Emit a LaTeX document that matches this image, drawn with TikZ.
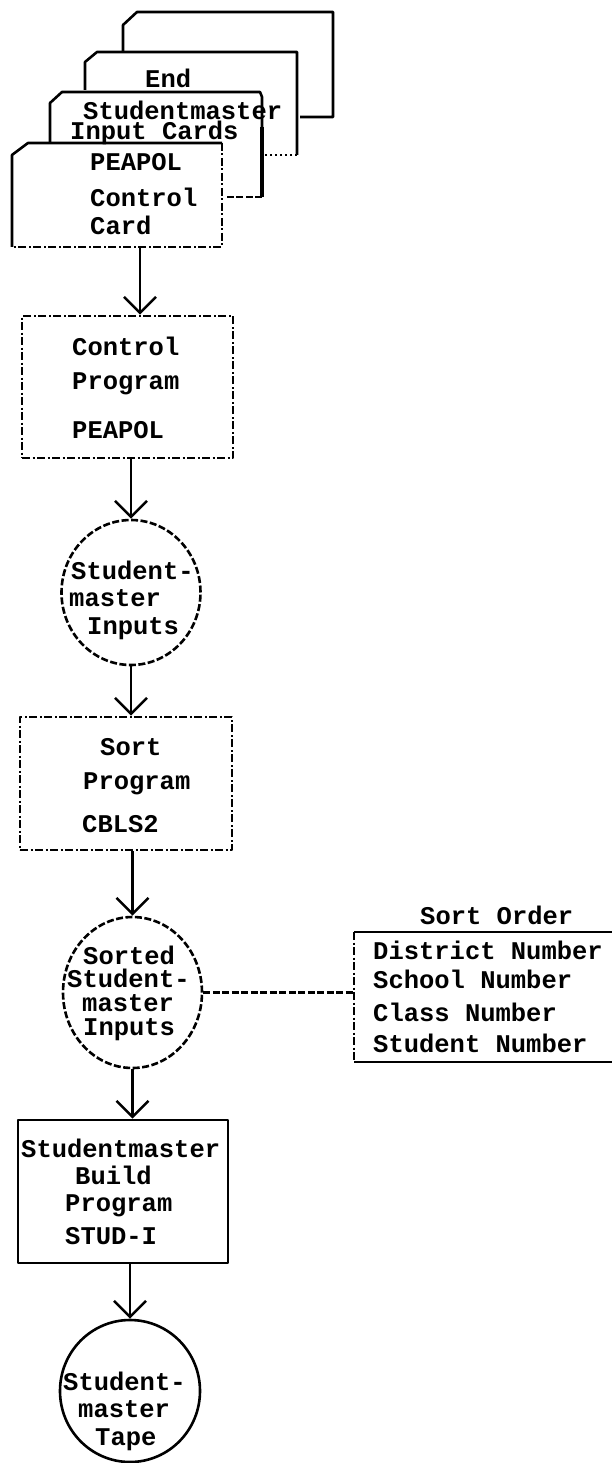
\documentclass[tikz,border=0pt]{standalone}
\usepackage{fontspec}
\setmainfont{Liberation Mono}
\usetikzlibrary{arrows.meta,shapes.geometric,calc}

\tikzset{
  ln/.style={line width=2.6pt, line join=round},
  dd/.style={ln, dash pattern=on 8pt off 2.5pt on 2pt off 2.5pt},
  dsh/.style={ln, dash pattern=on 7pt off 2.5pt},
  flow/.style={ln, -{Straight Barb[length=16pt,width=32pt,line width=2.6pt]}},
  lbl/.style={font=\fontsize{25.5}{28}\selectfont\bfseries, inner sep=0pt,
              text height=15pt, text depth=0pt, anchor=west},
  pbox/.style={draw, rectangle, inner sep=0pt},
  disc/.style={draw, ellipse, inner sep=0pt},
}

\begin{document}
\begin{tikzpicture}[x=1pt,y=-1pt]
\useasboundingbox[fill=white] (0,0) rectangle (612,1463);

% ---- deck of input cards ----
% back card
\draw[ln] (123,52) -- (123,25) -- (137,12) -- (333,12) -- (333,117) -- (300,117);
% third card
\draw[ln] (85,90) -- (85,62) -- (97,52) -- (297,52) -- (297,155);
\draw[ln, dash pattern=on 2pt off 3pt] (297,155) -- (264,155);
% second card
\draw[ln] (50,143) -- (50,103) -- (62,92) -- (260,92) -- (262,97) -- (262,127);
\draw[line width=4.5pt] (262,127) -- (262,197);
\draw[dsh] (262,197) -- (224,197);
% front card
\draw[ln] (12,247) -- (12,155) -- (28,143) -- (222,143);
\draw[dd] (222,143) -- (222,247) -- (12,247);
\coordinate (cardfoot) at (140,247);

\node[lbl] (tEnd)   at (145,80)  {End};
\node[lbl] (tSm)    at (83,112)  {Studentmaster};
\node[lbl] (tIc)    at (70,132)  {Input Cards};
\node[lbl] (tPea)   at (90,163)  {PEAPOL};
\node[lbl] (tCtl)   at (90,199)  {Control};
\node[lbl] (tCard)  at (90,227)  {Card};

% ---- control program ----
\node[pbox, dd, minimum width=211pt, minimum height=142pt] (ctrl) at (127.5,387) {};
\node[lbl] (ctrlA) at (72,348) {Control};
\node[lbl] (ctrlB) at (72,382) {Program};
\node[lbl] (ctrlC) at (72,431) {PEAPOL};

% ---- studentmaster inputs ----
\node[disc, dsh, minimum width=139pt, minimum height=145pt] (inp) at (131,592.5) {};
\node[lbl] (inpA) at (71,572) {Student-};
\node[lbl] (inpB) at (69,599) {master};
\node[lbl] (inpC) at (87,627) {Inputs};

% ---- sort program ----
\node[pbox, dd, minimum width=212pt, minimum height=133pt] (sort) at (126,783.5) {};
\node[lbl] (sortA) at (100,748) {Sort};
\node[lbl] (sortB) at (83,782)  {Program};
\node[lbl] (sortC) at (82,825)  {CBLS2};

% ---- sorted studentmaster inputs ----
\node[disc, dsh, minimum width=139pt, minimum height=151pt] (sorted) at (132.5,992.5) {};
\node[lbl] (srtA) at (83,957)  {Sorted};
\node[lbl] (srtB) at (67,980)  {Student-};
\node[lbl] (srtC) at (82,1004) {master};
\node[lbl] (srtD) at (83,1028) {Inputs};

% ---- sort order table ----
\coordinate (soTL) at (354,932);
\coordinate (soBL) at (354,1062);
\draw[ln] (612,932) -- (soTL);
\draw[dd] (soTL) -- (soBL);
\draw[ln] (soBL) -- (612,1062);
\node[lbl] (soT) at (420,917) {Sort Order};
\node[lbl] (so1) at (373,952)  {District Number};
\node[lbl] (so2) at (373,981)  {School Number};
\node[lbl] (so3) at (373,1014) {Class Number};
\node[lbl] (so4) at (373,1045) {Student Number};

% ---- studentmaster build ----
\node[pbox, ln, minimum width=210pt, minimum height=143pt] (build) at (123,1191.5) {};
\node[lbl] (bldA) at (21,1150) {Studentmaster};
\node[lbl] (bldB) at (75,1177) {Build};
\node[lbl] (bldC) at (65,1204) {Program};
\node[lbl] (bldD) at (65,1237) {STUD-I};

% ---- studentmaster tape ----
\node[disc, ln, minimum width=140pt, minimum height=142pt] (tape) at (130,1391) {};
\node[lbl] (tpA) at (63,1383) {Student-};
\node[lbl] (tpB) at (78,1410) {master};
\node[lbl] (tpC) at (95,1438) {Tape};

% ---- flow lines ----
\draw[flow] (cardfoot) -- (cardfoot |- ctrl.north);
\draw[flow] (ctrl.south -| inp.north) -- (inp.north);
\draw[flow] (inp.south) -- (inp.south |- sort.north);
\draw[flow] (sort.south -| sorted.north) -- (sorted.north);
\draw[flow] (sorted.south) -- (sorted.south |- build.north);
\draw[flow] (build.south -| tape.north) -- (tape.north);
\draw[dsh] (sorted.east) -- (sorted.east -| soTL);
\end{tikzpicture}
\end{document}
